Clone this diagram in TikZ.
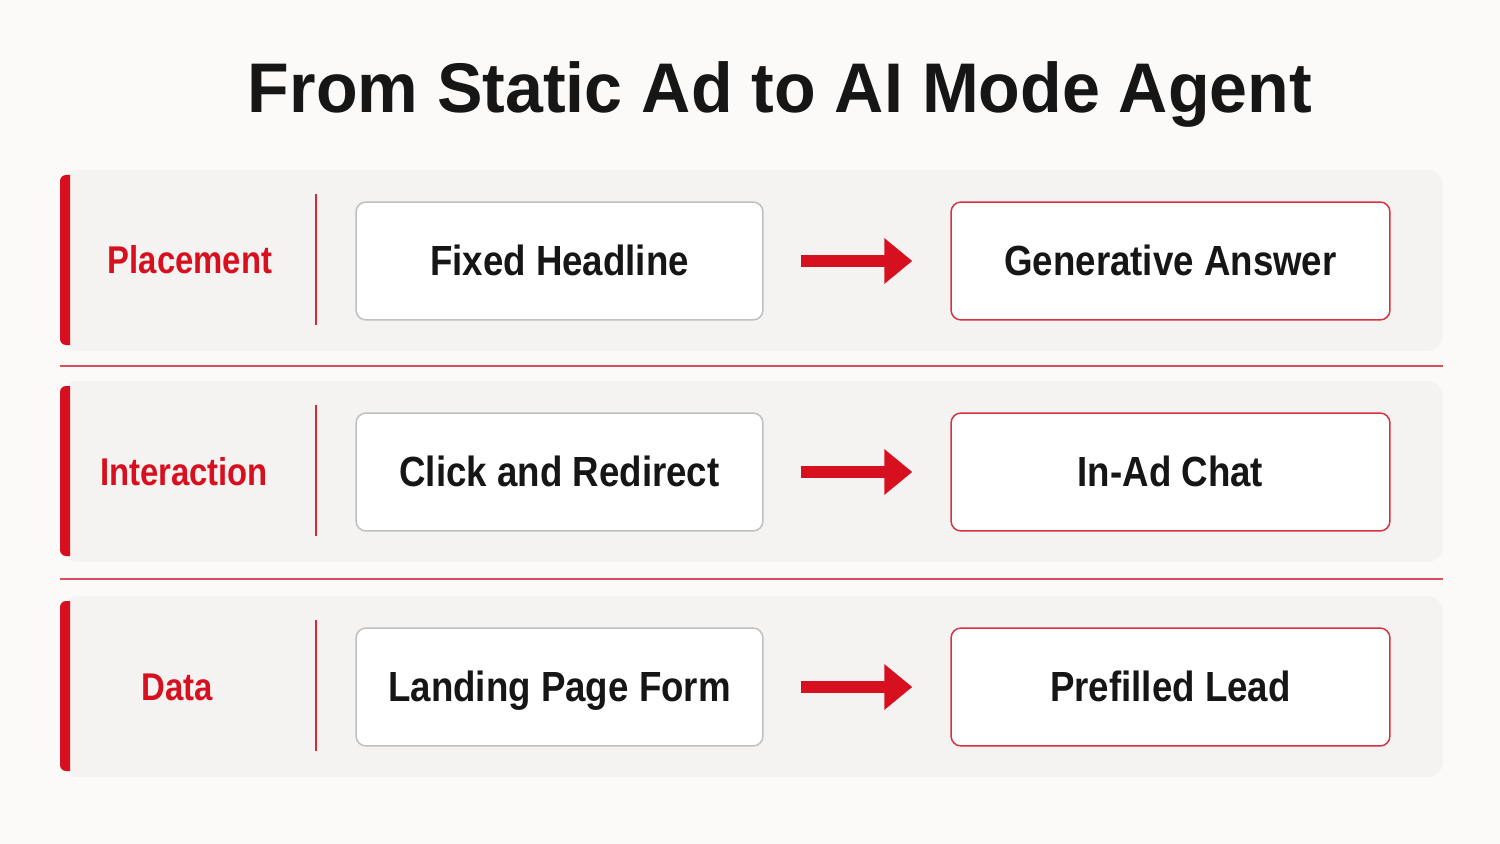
\documentclass[tikz,border=0pt]{standalone}
\usepackage{fontspec}
\setmainfont{Liberation Sans}
\newfontfamily\titlefont{Liberation Sans}[FakeStretch=0.97]
\newfontfamily\boxfont{Liberation Sans}[FakeStretch=0.87]
\newfontfamily\labelfont{Liberation Sans}[FakeStretch=0.85]
\usetikzlibrary{arrows.meta}
\definecolor{bgc}{HTML}{FBFAF8}
\definecolor{bandc}{HTML}{F4F3F1}
\definecolor{redc}{HTML}{D7101F}
\definecolor{divc}{HTML}{D42A35}
\definecolor{sepc}{HTML}{D9505C}
\definecolor{boxred}{HTML}{D63340}
\definecolor{boxgray}{HTML}{BFBFBF}
\definecolor{darkc}{HTML}{161616}
\tikzset{
  band/.style={fill=bandc, rounded corners=0.32cm},
  sepline/.style={draw=sepc, line width=0.04cm},
  divline/.style={draw=divc, line width=0.04cm},
  boxbase/.style={fill=white, rounded corners=0.2cm, line width=0.03cm,
    minimum height=2.36cm, text=darkc, text height=17pt, text depth=0pt,
    font=\boxfont\bfseries\fontsize{24}{28}\selectfont, inner sep=0pt},
  leftbox/.style={boxbase, draw=boxgray, minimum width=8.14cm},
  rightbox/.style={boxbase, draw=boxred, minimum width=8.78cm},
  lab/.style={anchor=base, text=redc, font=\labelfont\bfseries\fontsize{22}{26}\selectfont},
  arr/.style={draw=redc, line width=0.25cm, shorten <=0.74cm, shorten >=0.76cm,
    -{Triangle[length=0.56cm,width=0.88cm]}},
}
\begin{document}
\begin{tikzpicture}[x=0.02cm,y=-0.02cm]
\fill[bgc] (0,0) rectangle (1500,844);
\useasboundingbox (0,0) rectangle (1500,844);
\node[anchor=base, text=darkc, font=\titlefont\bfseries\fontsize{40}{48}\selectfont] (title) at (780,113) {From Static Ad to AI Mode Agent};
% separators
\draw[sepline] (60,366) -- (1443,366);
\draw[sepline] (60,579) -- (1443,579);
\foreach \n/\y/\lab/\lx/\ta/\tb in {1/261/Placement/190/Fixed Headline/Generative Answer,
  2/472/Interaction/184/Click and Redirect/In-Ad Chat,
  3/687/Data/177/Landing Page Form/Prefilled Lead}{
  \fill[band] (62,\y-91) rectangle (1443,\y+90);
  \fill[redc] (70,\y-86) -- (70,\y+84) -- (66,\y+84)
     .. controls (62.7,\y+84) and (60,\y+81.3) .. (60,\y+78)
     -- (60,\y-80) .. controls (60,\y-83.3) and (62.7,\y-86) .. (66,\y-86) -- cycle;
  \draw[divline] (316,\y-67) -- (316,\y+64);
  \node[lab] (l\n) at (\lx,\y+13) {\lab};
  \node[leftbox] (a\n) at (559.5,\y) {\ta};
  \node[rightbox] (b\n) at (1170.5,\y) {\tb};
  \draw[arr] (a\n.east) -- (b\n.west);
}
\end{tikzpicture}
\end{document}
